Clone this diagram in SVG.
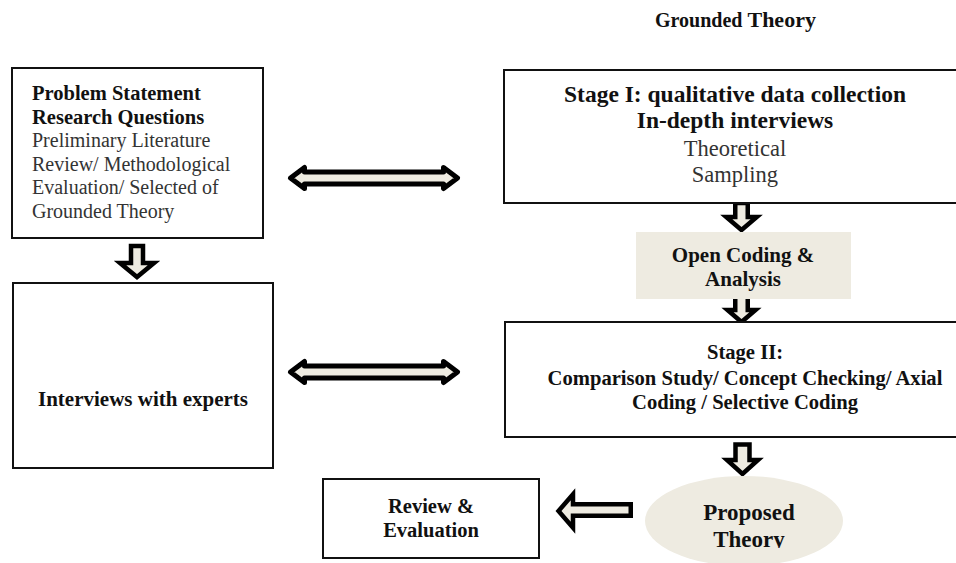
<svg xmlns="http://www.w3.org/2000/svg" width="956" height="563" viewBox="0 0 956 563">
<style>
.box{fill:#fff;stroke:#111;stroke-width:2}
.beige{fill:#EEEBE1;stroke:none}
.b{font-family:"Liberation Serif","Times New Roman",serif;font-weight:bold;fill:#111}
.r{font-family:"Liberation Serif","Times New Roman",serif;fill:#333}
.mid{text-anchor:middle}
.blk{fill:#EEEBE1;stroke:#000;stroke-width:4.5;stroke-linejoin:miter}
.dbl{fill:#EEEBE1;stroke:#000;stroke-width:5;stroke-linejoin:round}
</style>
<defs>
<clipPath id="clipTheory"><rect x="600" y="440" width="300" height="108"/></clipPath>
</defs>
<text id="title" x="655" y="27" class="b"><tspan font-size="20">Grounded </tspan><tspan font-size="22">Theory</tspan></text>

<g id="connectors">
<polygon class="blk" points="131,246 143,246 143,263 154,263 137,277 120,263 131,263"/>
<polygon class="blk" points="735.25,203 747.75,203 747.75,217 756.75,217 741.5,230 726.25,217 735.25,217"/>
<polygon class="blk" points="735.25,290 747.75,290 747.75,310 755.5,310 741.5,322 727.5,310 735.25,310"/>
<polygon class="blk" points="735.5,444.5 749.5,444.5 749.5,460 758,460 742.5,474 727,460 735.5,460"/>
<polygon class="blk" points="630.75,504.25 630.75,515.75 573,515.75 573,527.75 558.5,511 573,494.25 573,504.25"/>
<polygon class="dbl" points="290.5,178 304.5,167.5 304.5,172 443.5,172 443.5,167.5 457.5,178 443.5,188.5 443.5,184 304.5,184 304.5,188.5"/>
<polygon class="dbl" points="290.5,372 304.5,361.5 304.5,366 443.5,366 443.5,361.5 457.5,372 443.5,382.5 443.5,378 304.5,378 304.5,382.5"/>
</g>

<g id="problem">
<rect class="box" x="12" y="68" width="251" height="170"/>
<text class="b" font-size="20.5" x="32" y="100">Problem Statement</text>
<text class="b" font-size="20.5" x="32" y="123.5">Research Questions</text>
<text class="r" font-size="20" x="32" y="147">Preliminary Literature</text>
<text class="r" font-size="20" x="32" y="170.5">Review/ Methodological</text>
<text class="r" font-size="20" x="32" y="194">Evaluation/ Selected of</text>
<text class="r" font-size="20" x="32" y="217.5">Grounded Theory</text>
</g>

<g id="stage1">
<rect class="box" x="504" y="70" width="470" height="133"/>
<text class="b mid" font-size="23.5" x="735" y="102">Stage I: qualitative data collection</text>
<text class="b mid" font-size="23.5" x="735" y="128">In-depth interviews</text>
<text class="r mid" font-size="22.5" x="735" y="156">Theoretical</text>
<text class="r mid" font-size="22.5" x="735" y="182">Sampling</text>
</g>

<g id="opencoding">
<rect class="beige" x="636" y="232" width="215" height="67"/>
<text class="b mid" font-size="21" x="743" y="262">Open Coding &amp;</text>
<text class="b mid" font-size="21" x="743" y="286">Analysis</text>
</g>

<g id="interviews">
<rect class="box" x="13" y="283" width="260" height="185"/>
<text class="b mid" font-size="21" x="143" y="406">Interviews with experts</text>
</g>

<g id="stage2">
<rect class="box" x="505" y="322" width="470" height="115"/>
<text class="b mid" font-size="20.6" x="745" y="359">Stage II:</text>
<text class="b mid" font-size="20.6" x="745" y="385">Comparison Study/ Concept Checking/ Axial</text>
<text class="b mid" font-size="20.6" x="745" y="409">Coding / Selective Coding</text>
</g>

<g id="proposed">
<ellipse class="beige" cx="744" cy="521" rx="99" ry="45"/>
<text class="b mid" font-size="23" x="749" y="520">Proposed</text>
<text class="b mid" font-size="23" x="749" y="547" clip-path="url(#clipTheory)">Theory</text>
</g>

<g id="review">
<rect class="box" x="323" y="479" width="216" height="79"/>
<text class="b mid" font-size="20.5" x="431" y="513">Review &amp;</text>
<text class="b mid" font-size="20.5" x="431" y="537">Evaluation</text>
</g>
</svg>
